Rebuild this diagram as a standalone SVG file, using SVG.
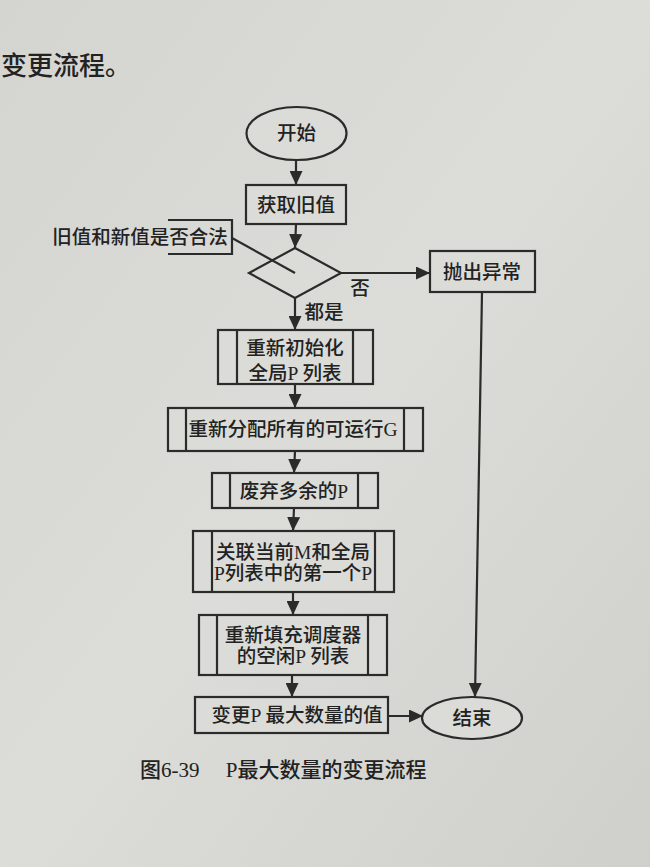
<svg xmlns="http://www.w3.org/2000/svg" width="650" height="867" viewBox="0 0 650 867">
<defs>
<linearGradient id="paper" x1="0" y1="0" x2="1" y2="1">
<stop offset="0" stop-color="#d4d4d0"/>
<stop offset="0.5" stop-color="#dcdcd8"/>
<stop offset="1" stop-color="#cfcfcb"/>
</linearGradient>
<marker id="arr" markerWidth="14" markerHeight="13" refX="14" refY="6.5" orient="auto" markerUnits="userSpaceOnUse">
<path d="M0,0 L14,6.5 L0,13 Z" fill="#2b2b2b"/>
</marker>
<style>
.ln{stroke:#2b2b2b;stroke-width:2.2;fill:none}
.bx{stroke:#2b2b2b;stroke-width:2.2;fill:#dbdbd7}
.t{font-family:"Liberation Serif","Noto Sans CJK SC",serif;font-size:19.5px;font-weight:500;fill:#222;text-anchor:middle;dominant-baseline:central}
.cap{font-family:"Liberation Serif","Noto Sans CJK SC",serif;font-size:21px;font-weight:500;fill:#222;dominant-baseline:central}
</style>
</defs>
<rect width="650" height="867" fill="url(#paper)"/>
<text x="1" y="66" class="cap" style="font-size:26px">变更流程。</text>

<g id="connectors">
<line class="ln" x1="296" y1="160" x2="296" y2="185" marker-end="url(#arr)"/>
<line class="ln" x1="296" y1="224" x2="295" y2="248" marker-end="url(#arr)"/>
<line class="ln" x1="341" y1="273" x2="430" y2="273" marker-end="url(#arr)"/>
<line class="ln" x1="482" y1="292" x2="475" y2="697" marker-end="url(#arr)"/>
<line class="ln" x1="295" y1="298" x2="295" y2="330" marker-end="url(#arr)"/>
<line class="ln" x1="295" y1="384" x2="295" y2="408" marker-end="url(#arr)"/>
<line class="ln" x1="295" y1="451" x2="294" y2="473" marker-end="url(#arr)"/>
<line class="ln" x1="294" y1="508" x2="293" y2="531" marker-end="url(#arr)"/>
<line class="ln" x1="293" y1="592" x2="293" y2="615" marker-end="url(#arr)"/>
<line class="ln" x1="292" y1="675" x2="292" y2="697" marker-end="url(#arr)"/>
<line class="ln" x1="388" y1="716" x2="423" y2="716" marker-end="url(#arr)"/>
<text x="360" y="288" class="t">否</text>
<text x="324" y="312" class="t">都是</text>
</g>

<g id="start">
<ellipse class="bx" cx="296.5" cy="133.5" rx="50" ry="26.5"/>
<text x="296.5" y="133.5" class="t">开始</text>
</g>

<g id="get-old">
<rect class="bx" x="246" y="185" width="100" height="39"/>
<text x="296" y="205" class="t">获取旧值</text>
</g>

<g id="decision">
<polygon class="bx" points="295,248 341,273 295,298 249,273"/>
</g>

<g id="annotation">
<polyline class="ln" points="168,220 232,220 232,254 168,254"/>
<line class="ln" x1="232" y1="238" x2="295" y2="273"/>
<text x="140" y="237" class="t">旧值和新值是否合法</text>
</g>

<g id="throw">
<rect class="bx" x="430" y="251" width="105" height="41"/>
<text x="482" y="272" class="t">抛出异常</text>
</g>

<g id="reinit">
<rect class="bx" x="218" y="330" width="155" height="54"/>
<line class="ln" x1="237" y1="330" x2="237" y2="384"/>
<line class="ln" x1="353" y1="330" x2="353" y2="384"/>
<text x="295" y="348" class="t">重新初始化</text>
<text x="295" y="373" class="t">全局P 列表</text>
</g>

<g id="realloc">
<rect class="bx" x="168" y="408" width="255" height="43"/>
<line class="ln" x1="186" y1="408" x2="186" y2="451"/>
<line class="ln" x1="404" y1="408" x2="404" y2="451"/>
<text x="293" y="429" class="t">重新分配所有的可运行G</text>
</g>

<g id="discard">
<rect class="bx" x="212" y="473" width="166" height="35"/>
<line class="ln" x1="230" y1="473" x2="230" y2="508"/>
<line class="ln" x1="358" y1="473" x2="358" y2="508"/>
<text x="294" y="491" class="t">废弃多余的P</text>
</g>

<g id="bind">
<rect class="bx" x="193" y="531" width="201" height="61"/>
<line class="ln" x1="212" y1="531" x2="212" y2="592"/>
<line class="ln" x1="375" y1="531" x2="375" y2="592"/>
<text x="293" y="552" class="t">关联当前M和全局</text>
<text x="293" y="573" class="t">P列表中的第一个P</text>
</g>

<g id="refill">
<rect class="bx" x="199" y="615" width="188" height="60"/>
<line class="ln" x1="217" y1="615" x2="217" y2="675"/>
<line class="ln" x1="368" y1="615" x2="368" y2="675"/>
<text x="293" y="635" class="t">重新填充调度器</text>
<text x="293" y="656" class="t">的空闲P 列表</text>
</g>

<g id="change">
<rect class="bx" x="195" y="697" width="193" height="36"/>
<text x="297" y="715" class="t">变更P 最大数量的值</text>
</g>

<g id="end">
<ellipse class="bx" cx="472" cy="718" rx="50" ry="21"/>
<text x="472" y="718" class="t">结束</text>
</g>

<text x="140" y="770" class="cap">图6-39　 P最大数量的变更流程</text>
</svg>
